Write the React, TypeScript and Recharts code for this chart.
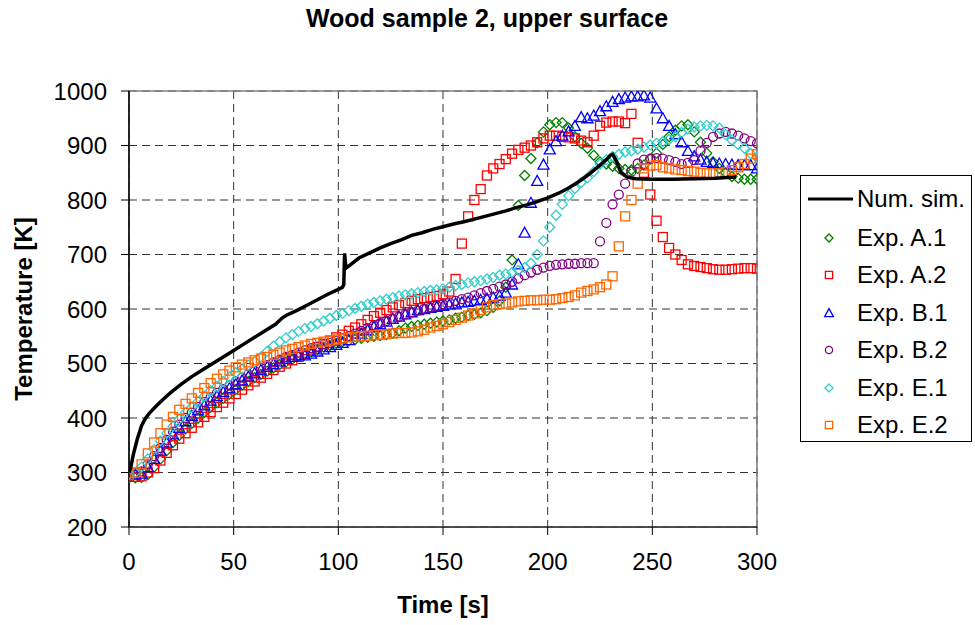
import { ScatterChart, Scatter, XAxis, YAxis, CartesianGrid, Legend, ReferenceArea, Label } from 'recharts';

const FONT = '"Liberation Sans", Arial, sans-serif';

const xTicks = [0, 50, 100, 150, 200, 250, 300];
const yTicks = [200, 300, 400, 500, 600, 700, 800, 900, 1000];

// numerical simulation
const simTime = [0, 1, 2, 4, 6, 8, 10, 13, 16, 20, 25, 30, 35, 40, 45, 50, 55, 60, 65, 70, 73, 75, 80, 85, 90, 95, 100, 102, 102.6, 103, 103.5, 104, 106, 110, 115, 120, 125, 130, 135, 140, 145, 150, 155, 160, 165, 170, 175, 180, 185, 190, 195, 200, 205, 210, 215, 220, 225, 228, 230, 231, 233, 235, 238, 242, 250, 260, 270, 280, 290];
const simTemp = [300, 312, 332, 362, 386, 400, 410, 422, 433, 447, 462, 476, 488, 500, 512, 524, 536, 548, 560, 572, 583, 588, 597, 607, 617, 627, 636, 640, 645, 702, 680, 676, 682, 694, 703, 712, 720, 727, 735, 740, 746, 751, 756, 760, 765, 770, 775, 780, 786, 791, 797, 804, 812, 822, 834, 848, 864, 874, 882, 884, 870, 850, 842, 839, 838, 838, 839, 840, 842];

// sampling times of the experiments
const expTime = [
  0, 3, 6, 9, 12, 15, 18, 21, 24, 27, 30, 33, 36, 39, 42, 45, 48, 51, 54, 57,
  60, 63, 66, 69, 72, 75, 78, 81, 84, 87, 90, 93, 96, 99, 102, 105, 108, 111, 114, 117,
  120, 123, 126, 129, 132, 135, 138, 141, 144, 147, 150, 153, 156, 159, 162, 165, 168, 171, 174, 177,
  180, 183, 186, 189, 192, 195, 198, 201, 204, 207, 210, 213, 216, 219, 222, 225, 228, 231, 234, 237,
  240, 243, 246, 249, 252, 255, 258, 261, 264, 267, 270, 273, 276, 279, 282, 285, 288, 291, 294, 297, 300,
];

const expA1 = [
  290, 290, 291, 296, 310, 325, 340, 355, 368, 380, 390, 400, 410, 420, 428, 436, 444, 452, 460, 467,
  474, 480, 486, 492, 498, 503, 508, 513, 518, 522, 526, 530, 533, 537, 540, 542, 544, 546, 548, 550,
  551, 553, 556, 560, 565, 568, 570, 572, 574, 576, 578, 580, 583, 585, 588, 590, 593, 597, 603, 615,
  640, 690, 790, 845, 876, 905, 925, 938, 942, 942, 932, 916, 904, 895, 882, 870, 866, 862, 858, 856,
  855, 858, 864, 875, 886, 902, 916, 928, 936, 938, 925, 906, 886, 870, 858, 850, 843, 840, 838, 838, 838,
];

const expA2 = [
  292, 292, 293, 300, 308, 322, 336, 350, 362, 372, 382, 392, 402, 411, 420, 428, 436, 444, 452, 460,
  467, 474, 481, 488, 494, 500, 506, 512, 518, 524, 530, 536, 542, 548, 553, 560, 566, 572, 580, 587,
  593, 598, 603, 607, 611, 615, 618, 620, 622, 624, 627, 632, 655, 720, 770, 800, 820, 845, 858, 866,
  875, 885, 892, 896, 900, 906, 913, 918, 918, 916, 915, 913, 909, 906, 918, 936, 942, 944, 944, 941,
  958, 905, 850, 810, 762, 732, 712, 700, 690, 682, 679, 677, 675, 673, 672, 672, 673, 674, 675, 675, 674,
];

const expB1 = [
  296, 296, 298, 310, 325, 340, 355, 370, 382, 394, 404, 414, 423, 432, 440, 448, 455, 462, 469, 476,
  482, 488, 494, 499, 504, 509, 512, 515, 515, 518, 522, 526, 530, 534, 538, 543, 549, 555, 561, 567,
  572, 577, 582, 586, 590, 594, 598, 600, 602, 604, 606, 608, 610, 612, 613, 615, 617, 619, 621, 624,
  630, 645, 682, 740, 795, 835, 865, 893, 908, 918, 926, 936, 952, 950, 955, 963, 972, 980, 985, 988,
  990, 990, 992, 988, 968, 950, 936, 921, 906, 890, 880, 874, 870, 868, 867, 866, 865, 864, 864, 864, 858,
];

const expB2 = [
  300, 300, 302, 315, 330, 345, 360, 375, 388, 400, 410, 420, 429, 438, 446, 453, 460, 467, 474, 480,
  486, 492, 497, 502, 507, 512, 516, 520, 524, 528, 531, 535, 538, 542, 546, 550, 555, 560, 565, 570,
  574, 578, 582, 586, 590, 594, 597, 600, 603, 606, 609, 612, 615, 618, 621, 625, 629, 633, 637, 641,
  645, 650, 656, 662, 667, 672, 676, 679, 681, 682, 683, 683, 684, 684, 684, 724, 758, 792, 810, 830,
  852, 867, 874, 876, 877, 876, 873, 870, 866, 868, 873, 890, 905, 916, 922, 925, 922, 918, 913, 908, 904,
];

const expE1 = [
  297, 300, 310, 325, 342, 358, 372, 385, 398, 410, 420, 430, 440, 450, 458, 467, 475, 483, 490, 497,
  503, 512, 522, 532, 540, 547, 553, 559, 564, 568, 573, 578, 583, 588, 592, 597, 601, 605, 609, 612,
  615, 618, 621, 624, 626, 628, 630, 632, 634, 635, 637, 640, 643, 645, 648, 650, 652, 655, 658, 662,
  664, 667, 671, 676, 684, 700, 725, 750, 772, 792, 808, 821, 832, 841, 852, 866, 874, 880, 884, 888,
  890, 893, 897, 901, 904, 907, 911, 916, 924, 930, 934, 936, 937, 936, 932, 920, 910, 902, 895, 885, 878,
];

const expE2 = [
  296, 300, 315, 335, 355, 372, 388, 402, 415, 426, 436, 446, 455, 464, 472, 480, 487, 493, 498, 502,
  506, 509, 512, 516, 520, 524, 527, 530, 533, 536, 538, 540, 542, 544, 546, 548, 549, 550, 551, 552,
  553, 554, 555, 556, 556, 557, 559, 562, 566, 569, 572, 576, 580, 584, 588, 592, 598, 603, 607, 609,
  610, 612, 614, 615, 616, 616, 617, 617, 618, 620, 622, 625, 630, 633, 636, 640, 645, 660, 715, 770,
  800, 830, 858, 863, 864, 860, 858, 856, 855, 853, 852, 850, 849, 849, 849, 851, 855, 860, 866, 876, 884,
];

const toPoints = (ts: number[], vs: number[]) => ts.map((t, i) => ({ t, T: vs[i] }));

type Kind = 'diamond' | 'square' | 'triangle' | 'circle';

function Marker({ cx, cy, kind, color, r = 5 }: { cx: number; cy: number; kind: Kind; color: string; r?: number }) {
  const p = { fill: 'none', stroke: color, strokeWidth: 1.3 };
  if (kind === 'diamond') return <path d={`M${cx},${cy - r}L${cx + r},${cy}L${cx},${cy + r}L${cx - r},${cy}Z`} {...p} />;
  if (kind === 'square') return <rect x={cx - r * 0.9} y={cy - r * 0.9} width={r * 1.8} height={r * 1.8} {...p} />;
  if (kind === 'triangle') return <path d={`M${cx},${cy - r * 1.1}L${cx + r * 1.1},${cy + r * 0.9}L${cx - r * 1.1},${cy + r * 0.9}Z`} {...p} />;
  return <circle cx={cx} cy={cy} r={r * 0.9} {...p} />;
}

const series = [
  { name: 'Exp. A.1', values: expA1, color: '#008000', kind: 'diamond' as Kind },
  { name: 'Exp. A.2', values: expA2, color: '#FF0000', kind: 'square' as Kind },
  { name: 'Exp. B.1', values: expB1, color: '#0000FF', kind: 'triangle' as Kind },
  { name: 'Exp. B.2', values: expB2, color: '#800080', kind: 'circle' as Kind },
  { name: 'Exp. E.1', values: expE1, color: '#33CCCC', kind: 'diamond' as Kind },
  { name: 'Exp. E.2', values: expE2, color: '#FF6600', kind: 'square' as Kind },
];

function LegendBox() {
  return (
    <div style={{ width: 172, height: 267, border: '1px solid #000', background: '#fff', boxSizing: 'border-box', fontFamily: FONT, fontSize: 24, color: '#000', overflow: 'hidden' }}>
      <div style={{ display: 'flex', alignItems: 'center', height: 41, marginTop: 2 }}>
        <svg width={56} height={20}><line x1={7} y1={10} x2={52} y2={10} stroke="#000" strokeWidth={3} /></svg>
        <span>Num. sim.</span>
      </div>
      {series.map(s => (
        <div key={s.name} style={{ display: 'flex', alignItems: 'center', height: 37.5 }}>
          <svg width={56} height={20}><Marker cx={28} cy={10} kind={s.kind} color={s.color} r={4} /></svg>
          <span>{s.name}</span>
        </div>
      ))}
    </div>
  );
}

export default function App() {
  const simData = toPoints(simTime, simTemp);
  return (
    <div style={{ position: 'absolute', left: 0, top: 0, width: 975, height: 625, background: '#fff', fontFamily: FONT }}>
      <div style={{ position: 'absolute', top: 4, left: 0, width: 974, textAlign: 'center', fontWeight: 'bold', fontSize: 25 }}>
        Wood sample 2, upper surface
      </div>
      <ScatterChart width={975} height={625} margin={{ top: 91, right: 218, bottom: 8, left: 10 }}>
        <CartesianGrid stroke="#333" strokeDasharray="8 5" horizontalValues={yTicks} verticalValues={xTicks} />
        <XAxis
          type="number"
          dataKey="t"
          domain={[0, 300]}
          ticks={xTicks}
          height={90}
          tickSize={8}
          tickMargin={18}
          axisLine={{ stroke: '#333', strokeWidth: 1.5 }}
          tickLine={{ stroke: '#000' }}
          tick={{ fill: '#000', fontSize: 24, fontFamily: FONT }}
          allowDataOverflow
        >
          <Label value="Time [s]" position="insideBottom" offset={4} style={{ fontWeight: 'bold', fontSize: 24, fill: '#000', fontFamily: FONT }} />
        </XAxis>
        <YAxis
          type="number"
          dataKey="T"
          domain={[200, 1000]}
          ticks={yTicks}
          width={119}
          tickSize={8}
          tickMargin={14}
          axisLine={{ stroke: '#000', strokeWidth: 1.5 }}
          tickLine={{ stroke: '#000' }}
          tick={{ fill: '#000', fontSize: 24, fontFamily: FONT }}
          allowDataOverflow
        >
          <Label value="Temperature [K]" angle={-90} position="insideLeft" offset={13} style={{ fontWeight: 'bold', fontSize: 24, fill: '#000', fontFamily: FONT, textAnchor: 'middle' }} />
        </YAxis>
        <ReferenceArea x1={0} x2={300} y1={200} y2={1000} fill="none" stroke="#808080" strokeWidth={1.5} />
        {series.map(s => (
          <Scatter
            key={s.name}
            name={s.name}
            data={toPoints(expTime, s.values)}
            isAnimationActive={false}
            shape={(props: any) => <Marker cx={props.cx} cy={props.cy} kind={s.kind} color={s.color} />}
          />
        ))}
        <Scatter
          name="Num. sim."
          data={simData}
          line={{ stroke: '#000', strokeWidth: 3.5 }}
          lineType="joint"
          shape={() => <g />}
          isAnimationActive={false}
        />
        <Legend
          layout="vertical"
          align="center"
          verticalAlign="middle"
          wrapperStyle={{ position: 'absolute', left: 800, top: 175, width: 172, height: 267 }}
          content={() => <LegendBox />}
        />
      </ScatterChart>
    </div>
  );
}
